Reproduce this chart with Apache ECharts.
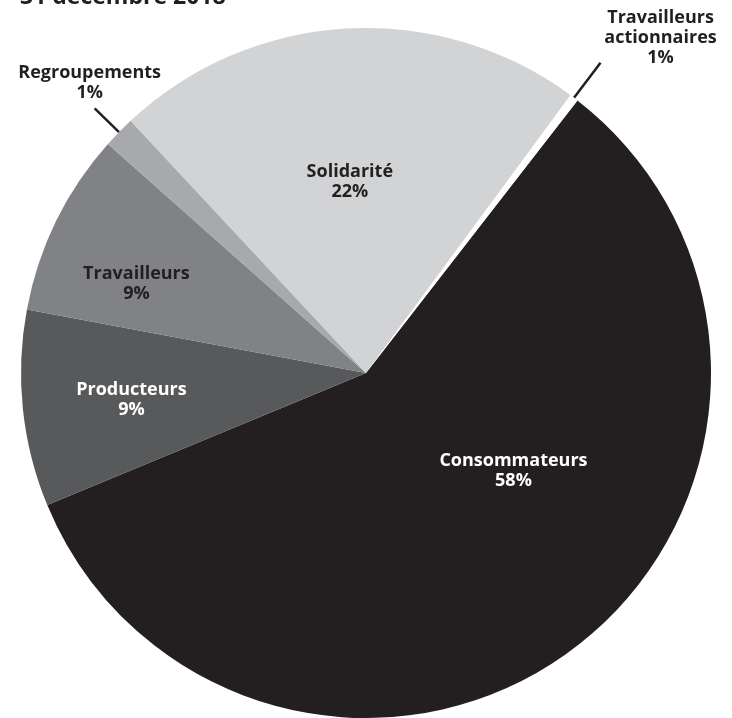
<!DOCTYPE html>
<html>
<head>
<meta charset="utf-8">
<script src="https://cdn.jsdelivr.net/npm/echarts@6/dist/echarts.min.js"></script>
<style>html,body{margin:0;padding:0;background:#fff}#c{width:732px;height:718px}</style>
</head>
<body>
<div id="c"></div>
<script>
// Data
const titleText = '31 décembre 2018';
const categories = ['Consommateurs', 'Producteurs', 'Travailleurs', 'Regroupements', 'Solidarité', 'Travailleurs\nactionnaires'];
const values = [58.25, 9.2, 8.6, 1.5, 22.05, 0.4];
const pctLabels = ['58%', '9%', '9%', '1%', '22%', '1%'];

// Styles
const colors = ['#231f20', '#58595b', '#808285', '#a7a9ac', '#d1d3d4', '#ffffff'];
const textColors = ['#ffffff', '#ffffff', '#231f20', '#231f20', '#231f20', '#231f20'];
const outside = [false, false, false, true, false, true];
const lineLen = [0, 0, 0, 34, 0, 44];
// label offsets relative to library default positions
const offX = [41, -60, -72, -5, -6, 60];
const offY = [-42, 9, -12, -6, -16, 5];

const chart = echarts.init(document.getElementById('c'));
const FONT = '"Open Sans", sans-serif';

const data = categories.map((name, i) => ({
  name: name,
  value: values[i],
  itemStyle: { color: colors[i] },
  label: {
    position: outside[i] ? 'outside' : 'inside',
    color: textColors[i]
  },
  labelLine: {
    show: outside[i],
    length: lineLen[i],
    length2: 0,
    lineStyle: { color: '#231f20', width: 2.5 }
  }
}));

chart.setOption({
  animation: false,
  title: {
    text: titleText,
    left: 15,
    top: -19,
    textStyle: { fontFamily: FONT, fontWeight: 'bold', fontSize: 23, color: '#231f20' }
  },
  series: [{
    type: 'pie',
    center: [366, 373],
    radius: [0, 345],
    startAngle: 52.2,
    clockwise: true,
    avoidLabelOverlap: false,
    itemStyle: { borderWidth: 0 },
    label: {
      formatter: p => p.name + '\n' + pctLabels[p.dataIndex],
      fontFamily: FONT,
      fontWeight: 'bold',
      fontSize: 18,
      lineHeight: 20,
      align: 'center'
    },
    labelLayout: function (p) {
      const i = p.dataIndex;
      if (outside[i] && p.labelLinePoints) {
        const end = p.labelLinePoints[p.labelLinePoints.length - 1];
        return {
          x: end[0] + offX[i],
          y: end[1] + offY[i],
          align: 'center',
          verticalAlign: 'bottom',
          labelLinePoints: p.labelLinePoints
        };
      }
      const r = p.labelRect;
      return {
        x: r.x + r.width / 2 + offX[i],
        y: r.y + r.height / 2 + offY[i],
        align: 'center',
        verticalAlign: 'middle'
      };
    },
    data: data
  }]
});
</script>
</body>
</html>
